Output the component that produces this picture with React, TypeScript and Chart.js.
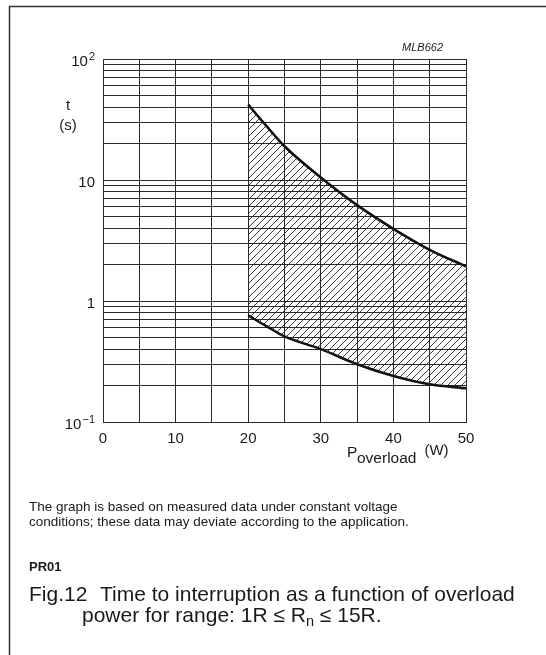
import React, { useEffect, useRef } from "react";
import { Chart, registerables } from "chart.js";

Chart.register(...registerables);

// ---- data ----
const P_OVERLOAD = [20, 22.5, 25, 30, 35, 40, 45, 50];
const T_UPPER = [42, 28, 19, 10.5, 6.2, 3.95, 2.65, 1.93];
const T_LOWER = [0.76, 0.62, 0.51, 0.4, 0.3, 0.24, 0.205, 0.19];

const X_MIN = 0;
const X_MAX = 50;
const X_GRID_STEP = 5;
const X_TICKS = [0, 10, 20, 30, 40, 50];
const X_TICK_LABELS = ["0", "10", "20", "30", "40", "50"];

const Y_MIN = 0.1;
const Y_MAX = 100;
const Y_GRID = [
  0.1, 0.2, 0.3, 0.4, 0.5, 0.6, 0.7, 0.8, 0.9,
  1, 2, 3, 4, 5, 6, 7, 8, 9,
  10, 20, 30, 40, 50, 60, 70, 80, 90,
  100,
];
const Y_MAJOR = [0.1, 1, 10, 100];
const Y_MAJOR_BASE = ["10", "1", "10", "10"];
const Y_MAJOR_EXP = ["\u22121", "", "", "2"];

const CODE_LABEL = "MLB662";
const Y_TITLE = ["t", "(s)"];
const X_TITLE_MAIN = "P";
const X_TITLE_SUB = "overload";
const X_TITLE_UNIT = "(W)";
const NOTE_LINES = [
  "The graph is based on measured data under constant voltage",
  "conditions; these data may deviate according to the application.",
];
const PRODUCT = "PR01";
const CAPTION_1 = "Time to interruption as a function of overload";
const CAPTION_2_A = "power for range: 1R \u2264 R";
const CAPTION_2_SUB = "n";
const CAPTION_2_B = " \u2264 15R.";
const FIG_LABEL = "Fig.12";

const FONT = '"Liberation Sans", Arial, Helvetica, sans-serif';
const INK = "#1a1a1a";

function makeHatch(): CanvasPattern | string {
  const s = 7;
  const c = document.createElement("canvas");
  c.width = s;
  c.height = s;
  const g = c.getContext("2d");
  if (!g) return "rgba(0,0,0,0.2)";
  g.strokeStyle = "#222";
  g.lineWidth = 0.9;
  g.beginPath();
  g.moveTo(-1, s + 1);
  g.lineTo(s + 1, -1);
  g.moveTo(-1, 1);
  g.lineTo(1, -1);
  g.moveTo(s - 1, s + 1);
  g.lineTo(s + 1, s - 1);
  g.stroke();
  const p = g.createPattern(c, "repeat");
  return p || "rgba(0,0,0,0.2)";
}

const decorPlugin = {
  id: "decor",
  beforeDraw(chart: any) {
    const ctx = chart.ctx as CanvasRenderingContext2D;
    ctx.save();
    ctx.fillStyle = "#ffffff";
    ctx.fillRect(0, 0, chart.width, chart.height);
    // frame (top and left)
    ctx.strokeStyle = "#333";
    ctx.lineWidth = 1.5;
    ctx.beginPath();
    ctx.moveTo(546, 6.5);
    ctx.lineTo(9.5, 6.5);
    ctx.lineTo(9.5, 655);
    ctx.stroke();
    ctx.restore();
  },
  afterDraw(chart: any) {
    const ctx = chart.ctx as CanvasRenderingContext2D;
    const area = chart.chartArea;
    const xs = chart.scales.x;
    const ys = chart.scales.y;
    ctx.save();
    ctx.fillStyle = INK;

    // y tick labels with superscripts
    for (let i = 0; i < Y_MAJOR.length; i++) {
      const y = ys.getPixelForValue(Y_MAJOR[i]);
      const base = Y_MAJOR_BASE[i];
      const exp = Y_MAJOR_EXP[i];
      ctx.font = `15px ${FONT}`;
      const bw = ctx.measureText(base).width;
      ctx.font = `11px ${FONT}`;
      const ew = exp ? ctx.measureText(exp).width + 1 : 0;
      const right = area.left - 8;
      const x0 = right - bw - ew;
      ctx.textAlign = "left";
      ctx.textBaseline = "alphabetic";
      ctx.font = `15px ${FONT}`;
      ctx.fillText(base, x0, y + 7);
      if (exp) {
        ctx.font = `11px ${FONT}`;
        ctx.fillText(exp, x0 + bw + 1, y + 1);
      }
    }

    // x tick labels
    ctx.font = `15px ${FONT}`;
    ctx.textAlign = "center";
    ctx.textBaseline = "alphabetic";
    for (let i = 0; i < X_TICKS.length; i++) {
      ctx.fillText(X_TICK_LABELS[i], xs.getPixelForValue(X_TICKS[i]), area.bottom + 21);
    }

    // y title
    ctx.textAlign = "center";
    ctx.fillText(Y_TITLE[0], 68, 110);
    ctx.fillText(Y_TITLE[1], 68, 130);

    // x title P_overload (W)
    ctx.textAlign = "left";
    ctx.font = `15.5px ${FONT}`;
    ctx.fillText(X_TITLE_MAIN, 347, 457);
    ctx.fillText(X_TITLE_SUB, 357, 463);
    const subW = ctx.measureText(X_TITLE_SUB).width;
    ctx.font = `15px ${FONT}`;
    ctx.fillText(X_TITLE_UNIT, 357 + subW + 8, 455);

    // code label
    ctx.font = `italic 11px ${FONT}`;
    ctx.textAlign = "right";
    ctx.fillText(CODE_LABEL, area.right - 23, 51);

    // notes
    ctx.textAlign = "left";
    ctx.font = `13.5px ${FONT}`;
    ctx.fillText(NOTE_LINES[0], 29, 511);
    ctx.fillText(NOTE_LINES[1], 29, 526);
    ctx.font = `bold 13px ${FONT}`;
    ctx.fillText(PRODUCT, 29, 571);

    // caption
    ctx.font = `21px ${FONT}`;
    ctx.fillText(FIG_LABEL, 29, 601);
    ctx.fillText(CAPTION_1, 100, 601);
    ctx.fillText(CAPTION_2_A, 82, 622);
    const aw = ctx.measureText(CAPTION_2_A).width;
    ctx.font = `14.5px ${FONT}`;
    ctx.fillText(CAPTION_2_SUB, 82 + aw, 626);
    const sw = ctx.measureText(CAPTION_2_SUB).width;
    ctx.font = `21px ${FONT}`;
    ctx.fillText(CAPTION_2_B, 82 + aw + sw, 622);

    ctx.restore();
  },
};

export default function App() {
  const ref = useRef<HTMLCanvasElement | null>(null);

  useEffect(() => {
    const canvas = ref.current;
    if (!canvas) return;
    const hatch = makeHatch();
    const chart = new Chart(canvas, {
      type: "line",
      data: {
        datasets: [
          {
            label: "upper",
            data: P_OVERLOAD.map((p, i) => ({ x: p, y: T_UPPER[i] })),
            borderColor: "#111",
            borderWidth: 2.6,
            pointRadius: 0,
            cubicInterpolationMode: "monotone",
            fill: "+1",
            backgroundColor: hatch as any,
          },
          {
            label: "lower",
            data: P_OVERLOAD.map((p, i) => ({ x: p, y: T_LOWER[i] })),
            borderColor: "#111",
            borderWidth: 2.6,
            pointRadius: 0,
            cubicInterpolationMode: "monotone",
            fill: false,
          },
        ],
      },
      options: {
        animation: false,
        responsive: false,
        devicePixelRatio: 1,
        layout: { padding: { left: 103, right: 80, top: 59, bottom: 233 } },
        plugins: {
          legend: { display: false },
          tooltip: { enabled: false },
          title: { display: false },
        },
        scales: {
          x: {
            type: "linear",
            min: X_MIN,
            max: X_MAX,
            ticks: { display: false, stepSize: X_GRID_STEP },
            grid: { color: "#2a2a2a", lineWidth: 1, drawTicks: false },
            border: { display: true, color: "#2a2a2a", width: 1 },
          },
          y: {
            type: "logarithmic",
            min: Y_MIN,
            max: Y_MAX,
            ticks: { display: false },
            afterBuildTicks: (scale: any) => {
              scale.ticks = Y_GRID.map((v) => ({ value: v }));
            },
            grid: { color: "#2a2a2a", lineWidth: 1, drawTicks: false },
            border: { display: true, color: "#2a2a2a", width: 1 },
          },
        },
      } as any,
      plugins: [decorPlugin],
    });
    return () => chart.destroy();
  }, []);

  return (
    <div style={{ position: "absolute", left: 0, top: 0, width: 546, height: 655, background: "#fff" }}>
      <canvas ref={ref} width={546} height={655} style={{ width: 546, height: 655, display: "block" }} />
    </div>
  );
}
